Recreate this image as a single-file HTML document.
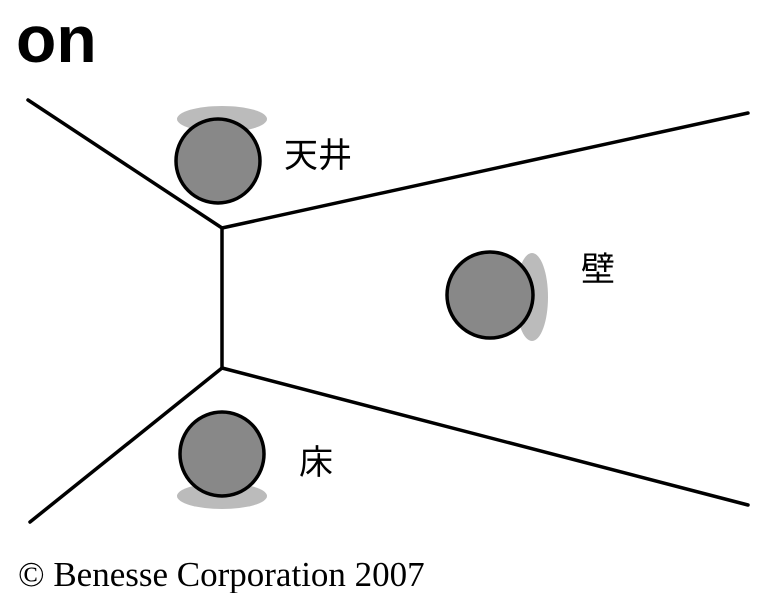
<!DOCTYPE html>
<html><head><meta charset="utf-8"><style>
html,body{margin:0;padding:0;background:#fff;width:768px;height:593px;overflow:hidden}
svg{display:block}
</style></head><body>
<svg width="768" height="593" viewBox="0 0 768 593" xmlns="http://www.w3.org/2000/svg">
<text x="16" y="62" font-family="Liberation Sans, sans-serif" font-weight="bold" font-size="66">on</text>
<g stroke="#000" stroke-width="3.5" fill="none" stroke-linecap="round">
<line x1="28" y1="100" x2="222" y2="228"/>
<line x1="222" y1="228" x2="748" y2="113"/>
<line x1="222" y1="228" x2="222" y2="368"/>
<line x1="222" y1="368" x2="30" y2="522"/>
<line x1="222" y1="368" x2="748" y2="505"/>
</g>
<ellipse cx="222" cy="119" rx="45" ry="13" fill="#bbb"/>
<circle cx="218" cy="161" r="42" fill="#888" stroke="#000" stroke-width="3.5"/>
<ellipse cx="532" cy="297" rx="16" ry="44" fill="#bbb"/>
<circle cx="490" cy="295" r="43" fill="#888" stroke="#000" stroke-width="3.5"/>
<ellipse cx="222" cy="496" rx="45" ry="13" fill="#bbb"/>
<circle cx="222" cy="454" r="42" fill="#888" stroke="#000" stroke-width="3.5"/>
<g font-family="Liberation Sans, Noto Sans CJK JP, sans-serif" font-size="34" fill="#000">
<text x="284" y="167">天井</text>
<text x="581" y="281">壁</text>
<text x="299" y="474">床</text>
</g>
<text x="18" y="586" font-family="Liberation Serif, serif" font-size="35">© Benesse Corporation 2007</text>
</svg>
</body></html>
